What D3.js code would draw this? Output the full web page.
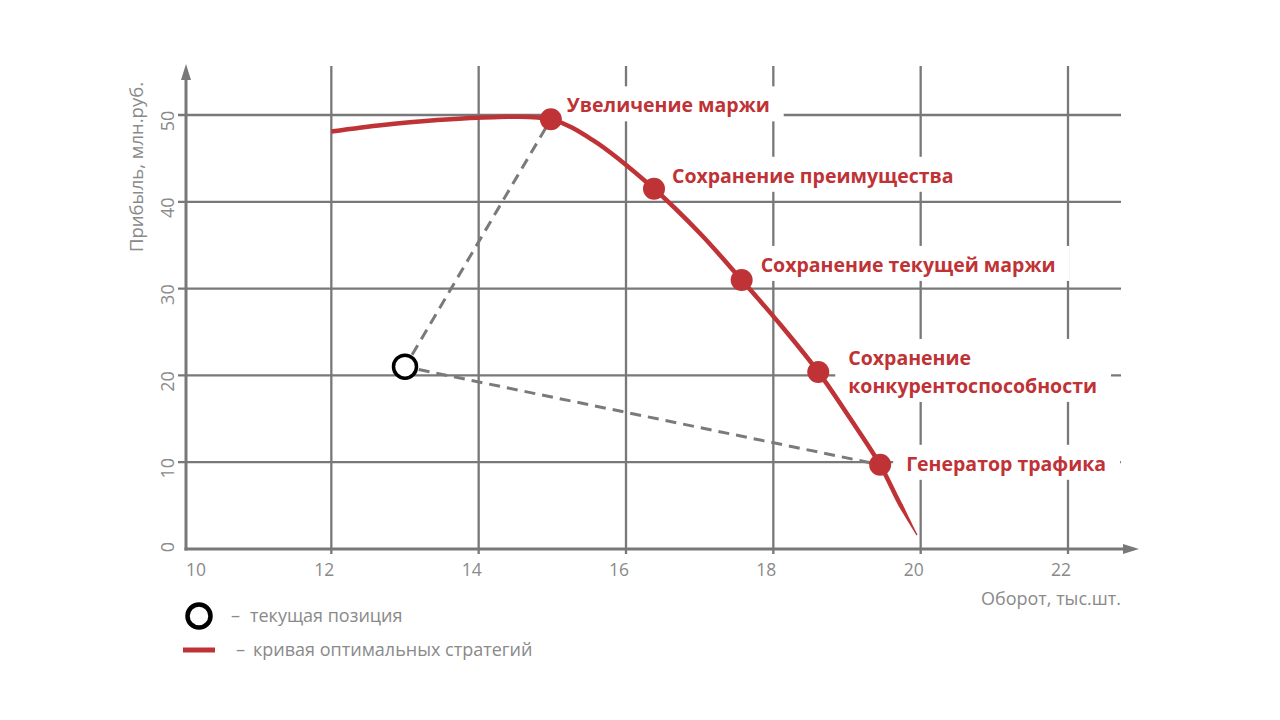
<!DOCTYPE html>
<html><head><meta charset="utf-8">
<script src="https://cdn.jsdelivr.net/npm/d3@7"></script>
<style>body{margin:0;background:#fff;} svg{display:block;}</style>
</head><body><svg id="c" width="1280" height="720"></svg>
<script>
// ---- data ----
const xTicks = [10, 12, 14, 16, 18, 20, 22];
const yTicks = [0, 10, 20, 30, 40, 50];
const curveX = [12.0, 12.7, 13.4, 14.2, 14.98, 15.55, 16.38, 17.0, 17.57, 18.1, 18.61, 19.03, 19.45, 19.7, 19.95];
const curveY = [48.1, 48.85, 49.4, 49.75, 49.5, 47.1, 41.5, 36.4, 31.0, 25.8, 20.4, 15.2, 9.7, 5.5, 1.6];
const markerX = [14.98, 16.38, 17.57, 18.61, 19.45];
const markerY = [49.5, 41.5, 31.0, 20.4, 9.7];
const markerLabels = [["Увеличение маржи"], ["Сохранение преимущества"], ["Сохранение текущей маржи"], ["Сохранение", "конкурентоспособности"], ["Генератор трафика"]];
const currentX = 13.0, currentY = 21.0;
const xTitle = "Оборот, тыс.шт.";
const yTitle = "Прибыль, млн.руб.";
const legendItems = ["текущая позиция", "кривая оптимальных стратегий"];

// ---- layout ----
const labelDx = [16, 18, 19, 30, 26];
const labelDy = [-7, -6, -8, -7, 6];
const RED = "#bf3236", GRID = "#787878", TXT = "#8a8a8a";
const FONT = "'Open Sans', sans-serif";

const svg = d3.select("#c");
const x = d3.scaleLinear().domain([10, 22]).range([184, 1068]);
const y = d3.scaleLinear().domain([0, 50]).range([549, 115]);

// gridlines
const g = svg.append("g");
g.selectAll("line.v").data(xTicks.slice(1)).join("line")
  .attr("x1", d => x(d)).attr("x2", d => x(d)).attr("y1", 66).attr("y2", y(0) + 5)
  .attr("stroke", GRID).attr("stroke-width", 2.3);
g.selectAll("line.h").data(yTicks.slice(1)).join("line")
  .attr("y1", d => y(d)).attr("y2", d => y(d)).attr("x1", x(10) - 6).attr("x2", 1121)
  .attr("stroke", GRID).attr("stroke-width", 2.3);

// axes
svg.append("line").attr("x1", x(10) + 2).attr("x2", x(10) + 2).attr("y1", y(0) + 1.5).attr("y2", 78)
  .attr("stroke", GRID).attr("stroke-width", 3);
svg.append("path").attr("d", `M${x(10)+2},64 L${x(10)+7},80 L${x(10)-3},80 Z`).attr("fill", GRID);
svg.append("line").attr("x1", x(10) + 0.5).attr("x2", 1125).attr("y1", y(0)).attr("y2", y(0))
  .attr("stroke", GRID).attr("stroke-width", 3);
svg.append("path").attr("d", `M1139,${y(0)} L1123,${y(0)-5} L1123,${y(0)+5} Z`).attr("fill", GRID);

// tick labels
svg.selectAll("text.xt").data(xTicks).join("text")
  .attr("x", (d, i) => x(d) + (i === 0 ? 12 : -7)).attr("y", y(0) + 20)
  .attr("text-anchor", "middle").attr("dominant-baseline", "central")
  .attr("font-family", FONT).attr("font-size", 17.5).attr("fill", TXT).text(d => d);
svg.selectAll("text.yt").data(yTicks).join("text")
  .attr("transform", (d, i) => `translate(${x(10) - 17},${y(d) + (i === 0 ? -2 : 6)}) rotate(-90)`)
  .attr("text-anchor", "middle").attr("dominant-baseline", "central")
  .attr("font-family", FONT).attr("font-size", 18).attr("fill", TXT).text(d => d);

// axis titles
svg.append("text").attr("transform", "translate(135,167) rotate(-90)")
  .attr("text-anchor", "middle").attr("dominant-baseline", "central")
  .attr("font-family", FONT).attr("font-size", 18.5).attr("fill", TXT).text(yTitle);
svg.append("text").attr("x", 1121).attr("y", 598)
  .attr("text-anchor", "end").attr("dominant-baseline", "central")
  .attr("font-family", FONT).attr("font-size", 18).attr("fill", TXT).text(xTitle);

// label boxes (below marks) and labels (on top)
const boxG = svg.append("g");
const textG = svg.append("g");
markerLabels.forEach((lines, i) => {
  const lx = x(markerX[i]) + labelDx[i];
  const ly = y(markerY[i]) + labelDy[i];
  const t = textG.append("text").attr("font-family", FONT).attr("font-weight", 700)
    .attr("font-size", 19.5).attr("fill", RED);
  lines.forEach((s, k) => t.append("tspan").attr("x", lx).attr("y", ly + k * 28).text(s));
  const bb = t.node().getBBox();
  boxG.append("rect").attr("x", bb.x - 13).attr("width", bb.width + 27)
    .attr("y", ly - 26).attr("height", (lines.length - 1) * 28 + 35).attr("fill", "#fff");
});

// dashed lines from current position
const cx = x(currentX), cy = y(currentY);
[0, 4].forEach(i => {
  const tx = x(markerX[i]), ty = y(markerY[i]);
  const dx = tx - cx, dy = ty - cy, len = Math.hypot(dx, dy);
  const r0 = 14;
  svg.append("line").attr("x1", cx + dx / len * r0).attr("y1", cy + dy / len * r0)
    .attr("x2", tx).attr("y2", ty).attr("stroke", "#7a7a7a").attr("stroke-width", 3)
    .attr("stroke-dasharray", "11 7");
});

// curve
const pts = curveX.map((v, i) => [x(v), y(curveY[i])]);
const line = d3.line().curve(d3.curveCatmullRom.alpha(0.5));
const path = svg.append("path").attr("d", line(pts)).attr("fill", "none")
  .attr("stroke", RED).attr("stroke-width", 4.5);
const L = path.node().getTotalLength();
const taper = 34;
path.attr("stroke-dasharray", `${L - taper + 1} ${L}`);
// tapered tail
const left = [], right = [];
const N = 12;
for (let k = 0; k <= N; k++) {
  const s = L - taper + taper * k / N;
  const p = path.node().getPointAtLength(Math.min(s, L));
  const p2 = path.node().getPointAtLength(Math.min(s + 0.5, L));
  const p1 = path.node().getPointAtLength(Math.max(s - 0.5, 0));
  let tx = p2.x - p1.x, ty = p2.y - p1.y; const tl = Math.hypot(tx, ty) || 1;
  tx /= tl; ty /= tl;
  const w = 2.25 * (1 - 0.75 * k / N);
  left.push([p.x - ty * w, p.y + tx * w]);
  right.push([p.x + ty * w, p.y - tx * w]);
}
svg.append("path").attr("d", "M" + left.concat(right.reverse()).map(p => p.join(",")).join("L") + "Z")
  .attr("fill", RED);

// markers
svg.selectAll("circle.m").data(markerX).join("circle")
  .attr("cx", d => x(d)).attr("cy", (d, i) => y(markerY[i])).attr("r", 11).attr("fill", RED);

// current position
svg.append("circle").attr("cx", cx).attr("cy", cy).attr("r", 11.5)
  .attr("fill", "#fff").attr("stroke", "#000").attr("stroke-width", 3.5);

// labels on top
textG.raise();

// legend
svg.append("circle").attr("cx", 199).attr("cy", 616).attr("r", 11.5)
  .attr("fill", "#fff").attr("stroke", "#000").attr("stroke-width", 4.5);
svg.append("line").attr("x1", 183).attr("x2", 215).attr("y1", 650).attr("y2", 650)
  .attr("stroke", RED).attr("stroke-width", 5);
legendItems.forEach((s, i) => {
  const t = svg.append("text").attr("y", 615 + i * 34).attr("dominant-baseline", "central")
    .attr("font-family", FONT).attr("font-size", 18).attr("fill", TXT);
  t.append("tspan").attr("x", 231 + i * 5).text("–");
  t.append("tspan").attr("x", 250 + i * 3).text(s);
});
</script></body></html>
